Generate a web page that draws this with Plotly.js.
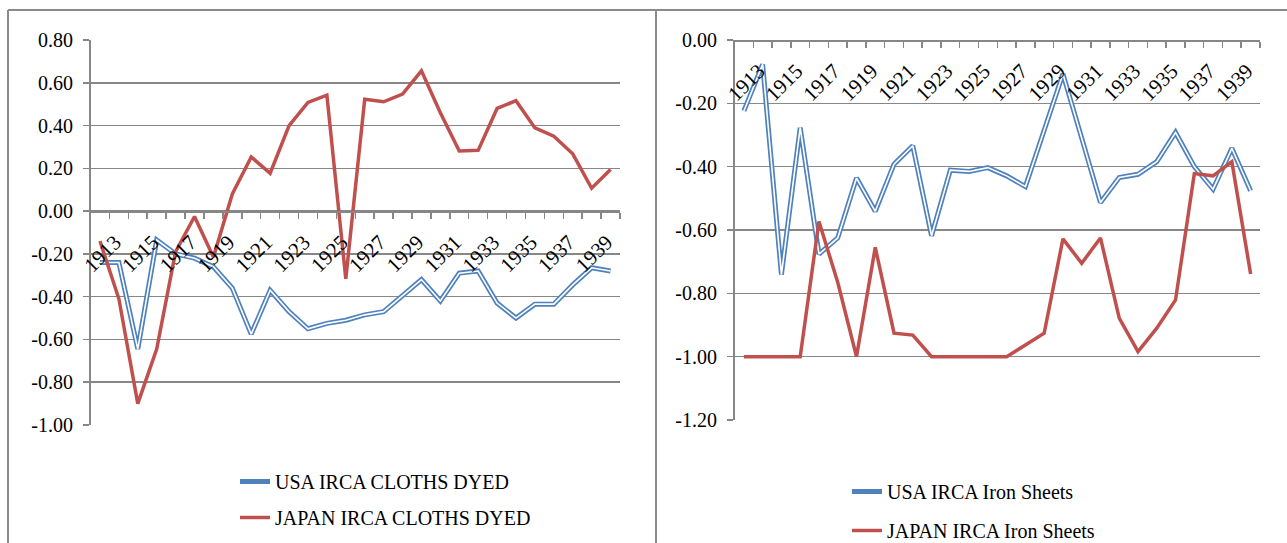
<!DOCTYPE html>
<html>
<head>
<meta charset="utf-8">
<script src="https://cdn.plot.ly/plotly-3.0.1.min.js"></script>
<style>
  html, body { margin: 0; padding: 0; background: #ffffff; }
  #chart { width: 1287px; height: 543px; }
</style>
</head>
<body>
<div id="chart"></div>
<script>
// ---------------- data ----------------
const years = [1913, 1914, 1915, 1916, 1917, 1918, 1919, 1920, 1921, 1922, 1923, 1924, 1925, 1926,
               1927, 1928, 1929, 1930, 1931, 1932, 1933, 1934, 1935, 1936, 1937, 1938, 1939, 1940];

const usaClothsDyed = [-0.24, -0.24, -0.645, -0.135, -0.20, -0.22, -0.26, -0.36, -0.575, -0.37,
                       -0.47, -0.55, -0.525, -0.51, -0.485, -0.47, -0.395, -0.32, -0.42, -0.29,
                       -0.28, -0.43, -0.50, -0.435, -0.435, -0.345, -0.265, -0.28];
const japanClothsDyed = [-0.14, -0.41, -0.90, -0.645, -0.19, -0.025, -0.215, 0.08, 0.253, 0.177,
                         0.40, 0.508, 0.542, -0.317, 0.523, 0.511, 0.547, 0.656, 0.46, 0.281,
                         0.284, 0.48, 0.516, 0.389, 0.35, 0.268, 0.107, 0.195];

const usaIronSheets = [-0.224, -0.077, -0.741, -0.277, -0.676, -0.625, -0.436, -0.541, -0.392, -0.334,
                       -0.618, -0.411, -0.415, -0.403, -0.429, -0.463, -0.285, -0.107, -0.31, -0.513,
                       -0.434, -0.424, -0.384, -0.292, -0.40, -0.471, -0.342, -0.476];
const japanIronSheets = [-1.0, -1.0, -1.0, -1.0, -0.573, -0.765, -1.0, -0.655, -0.926, -0.932,
                         -1.0, -1.0, -1.0, -1.0, -1.0, -0.963, -0.926, -0.628, -0.705, -0.625,
                         -0.878, -0.984, -0.91, -0.821, -0.422, -0.429, -0.384, -0.739];

const xTickYears = [1913, 1915, 1917, 1919, 1921, 1923, 1925, 1927, 1929, 1931, 1933, 1935, 1937, 1939];
const xTickText  = ["1913", "1915", "1917", "1919", "1921", "1923", "1925", "1927", "1929", "1931", "1933", "1935", "1937", "1939"];

const leftYTickVals = [-1.0, -0.8, -0.6, -0.4, -0.2, 0.0, 0.2, 0.4, 0.6, 0.8];
const leftYTickText = ["-1.00", "-0.80", "-0.60", "-0.40", "-0.20", "0.00", "0.20", "0.40", "0.60", "0.80"];
const rightYTickVals = [-1.2, -1.0, -0.8, -0.6, -0.4, -0.2, 0.0];
const rightYTickText = ["-1.20", "-1.00", "-0.80", "-0.60", "-0.40", "-0.20", "0.00"];

const seriesNames = {
  usaCloth: "USA IRCA CLOTHS DYED",
  japanCloth: "JAPAN IRCA CLOTHS DYED",
  usaIron: "USA IRCA Iron Sheets",
  japanIron: "JAPAN IRCA Iron Sheets"
};

// ---------------- style ----------------
const W = 1287, H = 543;
const BLUE = "#4F81BD", RED = "#C0504D", GRID = "#878787";
const FONT = "Liberation Serif, Times New Roman, serif";

const leftRange = [-1.0, 0.8];
const rightRange = [-1.2, 0.0];
const xRange = [1912.5, 1940.5];

// plot areas in pixels
const leftDomX = [90.5 / W, 620 / W];
const rightDomX = [734.5 / W, 1260 / W];
const leftDomY = [1 - 425 / H, 1 - 40 / H];
const rightDomY = [1 - 420 / H, 1 - 40 / H];

function zeroPos(dom, range) {
  return dom[0] + (0 - range[0]) / (range[1] - range[0]) * (dom[1] - dom[0]);
}

function xAxis(domain, pos) {
  return {
    type: "linear",
    domain: domain,
    range: xRange,
    anchor: "free",
    position: pos,
    automargin: false,
    showline: true, linecolor: GRID, linewidth: 1.5,
    showgrid: false, zeroline: false,
    tickmode: "array", tickvals: xTickYears, ticktext: xTickText,
    ticks: "", tickangle: -45,
    ticklabelshift: 15, ticklabelstandoff: 9,
    tickfont: { family: FONT, size: 21, color: "#000" },
    minor: { tickmode: "linear", tick0: 1912.5, dtick: 1, ticks: "outside", ticklen: 6,
             tickcolor: GRID, tickwidth: 1.5, showgrid: false },
    fixedrange: true
  };
}

function yAxis(domain, xName, range, vals, text) {
  return {
    domain: domain,
    range: range,
    anchor: xName,
    automargin: false,
    showline: true, linecolor: GRID, linewidth: 1.5,
    showgrid: true, gridcolor: GRID, gridwidth: 1.5,
    zeroline: false,
    tickmode: "array", tickvals: vals, ticktext: text,
    ticks: "outside", ticklen: 6, tickcolor: GRID, tickwidth: 1.5,
    ticklabelstandoff: 6,
    tickfont: { family: FONT, size: 20, color: "#000" },
    fixedrange: true
  };
}

function doubleLine(x, y, name, xa, ya, legend, group) {
  return [
    { x: x, y: y, type: "scatter", mode: "lines", name: name, xaxis: xa, yaxis: ya,
      line: { color: BLUE, width: 5 }, legend: legend, legendgroup: group },
    { x: x, y: y, type: "scatter", mode: "lines", name: name, xaxis: xa, yaxis: ya,
      line: { color: "#ffffff", width: 1.6 }, showlegend: false, legendgroup: group, hoverinfo: "skip" }
  ];
}

const traces = [
  ...doubleLine(years, usaClothsDyed, seriesNames.usaCloth, "x", "y", "legend", "g1"),
  { x: years, y: japanClothsDyed, type: "scatter", mode: "lines", name: seriesNames.japanCloth,
    xaxis: "x", yaxis: "y", line: { color: RED, width: 3.5 }, legend: "legend", legendgroup: "g2" },
  ...doubleLine(years, usaIronSheets, seriesNames.usaIron, "x2", "y2", "legend2", "g3"),
  { x: years, y: japanIronSheets, type: "scatter", mode: "lines", name: seriesNames.japanIron,
    xaxis: "x2", yaxis: "y2", line: { color: RED, width: 3.5 }, legend: "legend2", legendgroup: "g4" }
];

const legendCommon = {
  xanchor: "left", yanchor: "top", bgcolor: "rgba(0,0,0,0)",
  font: { family: FONT, size: 20, color: "#000" },
  itemclick: false, itemdoubleclick: false
};

const layout = {
  width: W, height: H,
  margin: { l: 0, r: 0, t: 0, b: 0, pad: 0, autoexpand: false },
  paper_bgcolor: "#ffffff", plot_bgcolor: "rgba(0,0,0,0)",
  showlegend: true,
  xaxis: xAxis(leftDomX, zeroPos(leftDomY, leftRange)),
  yaxis: yAxis(leftDomY, "x", leftRange, leftYTickVals, leftYTickText),
  xaxis2: xAxis(rightDomX, zeroPos(rightDomY, rightRange)),
  yaxis2: yAxis(rightDomY, "x2", rightRange, rightYTickVals, rightYTickText),
  legend: Object.assign({}, legendCommon, { x: 235 / W, y: 1 - 462 / H, tracegroupgap: 7 }),
  legend2: Object.assign({}, legendCommon, { x: 847 / W, y: 1 - 472 / H, tracegroupgap: 10 }),
  shapes: [
    { type: "line", xref: "paper", yref: "paper", x0: 8 / W, x1: 8 / W, y0: -0.05, y1: 1 - 10 / H,
      line: { color: "#8a8a8a", width: 2 } },
    { type: "line", xref: "paper", yref: "paper", x0: 8 / W, x1: 1.01, y0: 1 - 10 / H, y1: 1 - 10 / H,
      line: { color: "#8a8a8a", width: 2 } },
    { type: "line", xref: "paper", yref: "paper", x0: 656 / W, x1: 656 / W, y0: -0.05, y1: 1 - 10 / H,
      line: { color: "#8a8a8a", width: 2 } }
  ]
};

Plotly.newPlot("chart", traces, layout, { displayModeBar: false, staticPlot: true });
</script>
</body>
</html>
